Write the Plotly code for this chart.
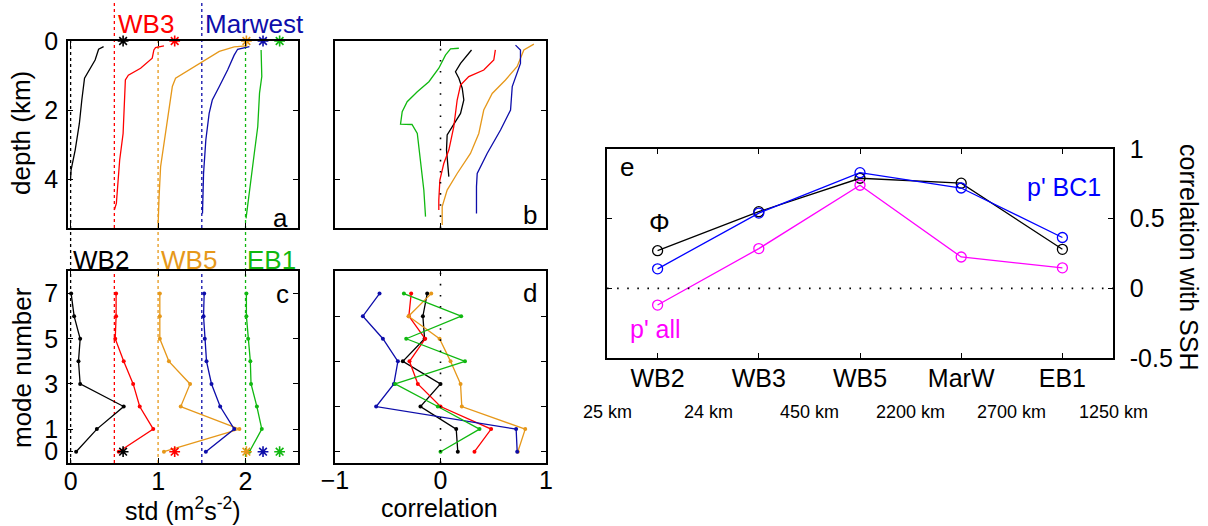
import plotly.graph_objects as go

W, H = 1208, 526
FONT = "Liberation Sans, Arial, Helvetica, sans-serif"

# ---------------- data ----------------
stations_ac = ["WB2", "WB3", "WB5", "Marwest", "EB1"]
colors_ac = ["#000000", "#FF0000", "#E6981A", "#0D0DAA", "#10B810"]
offsets = [0.0, 0.5, 1.0, 1.5, 2.0]
ssh_star_x = [0.60, 1.19, 2.01, 2.20, 2.39]

# panel a: std profiles vs depth (km)
a_depth = [
    [0.165, 0.24, 0.55, 0.99, 1.08, 1.71, 2.39, 3.16, 3.74, 3.97],
    [0.14, 0.19, 0.26, 0.50, 0.79, 0.99, 1.13, 1.71, 2.68, 3.45, 4.22, 4.71, 4.90],
    [0.14, 0.17, 0.30, 0.69, 0.94, 1.08, 1.32, 1.99, 2.87, 3.64, 4.61, 5.38],
    [0.165, 0.24, 0.41, 0.84, 1.32, 1.71, 2.10, 2.87, 3.84, 5.0],
    [0.26, 1.03, 1.51, 2.48, 3.26, 4.22, 4.80, 5.14],
]
a_std = [
    [0.377, 0.32, 0.28, 0.186, 0.159, 0.128, 0.10, 0.052, 0.005, 0.0],
    [0.567, 0.471, 0.452, 0.433, 0.30, 0.16, 0.126, 0.115, 0.10, 0.061, 0.038, 0.023, 0.0],
    [1.006, 0.87, 0.70, 0.45, 0.278, 0.20, 0.163, 0.124, 0.067, 0.029, 0.01, 0.0],
    [0.544, 0.41, 0.37, 0.295, 0.20, 0.12, 0.084, 0.046, 0.02, 0.008],
    [0.178, 0.186, 0.16, 0.14, 0.10, 0.055, 0.025, 0.006],
]

# panel b: correlation profiles vs depth
b_depth = [
    [0.26, 0.41, 0.65, 0.89, 1.08, 1.37, 1.71, 2.10, 2.43, 2.72, 3.16, 3.55, 3.93],
    [0.26, 0.55, 0.84, 1.03, 1.28, 1.71, 2.48, 3.16, 3.55, 4.03, 4.61, 4.90],
    [0.09, 0.26, 0.74, 1.13, 1.52, 2.0, 2.68, 3.26, 3.84, 4.32, 4.80, 5.33],
    [0.12, 0.26, 0.65, 1.03, 1.32, 2.0, 2.58, 3.26, 3.84, 4.22, 5.0],
    [0.21, 0.23, 0.41, 0.79, 1.18, 1.47, 1.76, 2.05, 2.41, 2.42, 2.68, 3.55, 4.32, 5.09],
]
b_corr = [
    [0.294, 0.253, 0.19, 0.142, 0.174, 0.206, 0.221, 0.19, 0.126, 0.063, 0.057, 0.069, 0.079],
    [0.52, 0.505, 0.41, 0.268, 0.19, 0.158, 0.126, 0.079, 0.031, -0.006, -0.016, -0.016],
    [0.885, 0.79, 0.727, 0.616, 0.49, 0.41, 0.363, 0.284, 0.158, 0.063, 0.016, 0.016],
    [0.711, 0.758, 0.758, 0.711, 0.68, 0.664, 0.569, 0.442, 0.348, 0.341, 0.341],
    [0.174, 0.095, 0.047, -0.016, -0.11, -0.22, -0.316, -0.363, -0.379, -0.27, -0.22, -0.19, -0.158, -0.142],
]

# panel c: std by mode number
modes = [0, 1, 2, 3, 4, 5, 6, 7]
c_std = [
    [0.063, 0.30, 0.607, 0.109, 0.09, 0.109, 0.04, 0.006],
    [0.05, 0.445, 0.29, 0.215, 0.107, 0.01, 0.02, 0.02],
    [0.067, 0.93, 0.259, 0.366, 0.124, 0.02, 0.02, 0.02],
    [0.046, 0.371, 0.21, 0.111, 0.054, 0.034, 0.02, 0.027],
    [0.044, 0.186, 0.13, 0.063, 0.055, 0.03, 0.01, 0.01],
]

# panel d: correlation by mode number
d_corr = [
    [0.164, 0.149, -0.19, 0.0, -0.357, -0.151, -0.167, -0.126],
    [0.322, 0.48, 0.0, -0.215, -0.294, -0.145, -0.30, -0.278],
    [0.733, 0.803, 0.202, 0.19, 0.095, -0.009, -0.303, -0.088],
    [0.727, 0.717, -0.61, -0.442, -0.404, -0.546, -0.736, -0.578],
    [0.0, 0.37, -0.026, -0.43, 0.232, -0.325, 0.196, -0.347],
]

# panel e
stations_e = ["WB2", "WB3", "WB5", "MarW", "EB1"]
phi_corr = [0.27, 0.55, 0.79, 0.755, 0.28]
p_bc1_corr = [0.14, 0.54, 0.83, 0.72, 0.365]
p_all_corr = [-0.12, 0.285, 0.74, 0.225, 0.147]
dist_labels = ["25 km", "24 km", "450 km", "2200 km", "2700 km", "1250 km"]
dist_pos = [-0.5, 0.5, 1.5, 2.5, 3.5, 4.5]

# ---------------- layout helpers ----------------
def px(x):
    return x / W

def py(y):
    return 1 - y / H

A_X = [px(68), px(298)]
B_X = [px(335), px(546)]
TOP_Y = [py(228), py(41)]
BOT_Y = [py(463), py(271)]
E_X = [px(607), px(1113)]
E_Y = [py(358), py(149)]

fig = go.Figure()

LW = 1.3
# panel a
for i in range(5):
    fig.add_trace(go.Scatter(
        x=[v + offsets[i] for v in a_std[i]], y=a_depth[i], mode="lines",
        line=dict(color=colors_ac[i], width=LW), xaxis="x", yaxis="y",
        showlegend=False, hoverinfo="skip"))
fig.add_trace(go.Scatter(
    x=ssh_star_x, y=[0] * 5, mode="markers", cliponaxis=False,
    marker=dict(symbol="asterisk-open", size=9, color=colors_ac,
                line=dict(color=colors_ac, width=1.6)),
    xaxis="x", yaxis="y", showlegend=False, hoverinfo="skip"))

# panel b
for i in range(5):
    fig.add_trace(go.Scatter(
        x=b_corr[i], y=b_depth[i], mode="lines",
        line=dict(color=colors_ac[i], width=LW), xaxis="x2", yaxis="y2",
        showlegend=False, hoverinfo="skip"))

# panel c
for i in range(5):
    fig.add_trace(go.Scatter(
        x=[v + offsets[i] for v in c_std[i]], y=modes, mode="lines+markers",
        line=dict(color=colors_ac[i], width=LW),
        marker=dict(size=4, color=colors_ac[i]),
        xaxis="x3", yaxis="y3", showlegend=False, hoverinfo="skip"))
fig.add_trace(go.Scatter(
    x=ssh_star_x, y=[0] * 5, mode="markers", cliponaxis=False,
    marker=dict(symbol="asterisk-open", size=9, color=colors_ac,
                line=dict(color=colors_ac, width=1.6)),
    xaxis="x3", yaxis="y3", showlegend=False, hoverinfo="skip"))

# panel d
for i in range(5):
    fig.add_trace(go.Scatter(
        x=d_corr[i], y=modes, mode="lines+markers",
        line=dict(color=colors_ac[i], width=LW),
        marker=dict(size=4, color=colors_ac[i]),
        xaxis="x4", yaxis="y4", showlegend=False, hoverinfo="skip"))

# panel e
xe = list(range(len(stations_e)))
for vals, col in [(phi_corr, "#000000"), (p_bc1_corr, "#0000FF"), (p_all_corr, "#FF00FF")]:
    fig.add_trace(go.Scatter(
        x=xe, y=vals, mode="lines+markers",
        line=dict(color=col, width=1.3),
        marker=dict(symbol="circle-open", size=10, color=col, line=dict(width=1.3, color=col)),
        xaxis="x5", yaxis="y5", showlegend=False, hoverinfo="skip"))

# ---------------- axes ----------------
def axis(**kw):
    base = dict(showline=True, linecolor="black", linewidth=1.6, mirror="ticks",
                ticks="inside", ticklen=5, tickwidth=1.2, tickcolor="black",
                showgrid=False, zeroline=False, automargin=False,
                tickfont=dict(family=FONT, size=25, color="black"))
    base.update(kw)
    return base

fig.update_layout(
    width=W, height=H, margin=dict(l=0, r=0, t=0, b=0, autoexpand=False),
    paper_bgcolor="white", plot_bgcolor="white",
    font=dict(family=FONT, color="black"),
    xaxis=axis(domain=A_X, anchor="y", range=[-0.03, 2.6], tickvals=[0, 1, 2], showticklabels=False),
    yaxis=axis(domain=TOP_Y, anchor="x", range=[5.42, 0], tickvals=[0, 2, 4], ticklabelstandoff=3),
    xaxis2=axis(domain=B_X, anchor="y2", range=[-1, 1], tickvals=[-1, 0, 1], showticklabels=False),
    yaxis2=axis(domain=TOP_Y, anchor="x2", range=[5.42, 0], tickvals=[0, 2, 4], showticklabels=False),
    xaxis3=axis(domain=A_X, anchor="y3", range=[-0.03, 2.6], tickvals=[0, 1, 2], ticklabelstandoff=-5),
    yaxis3=axis(domain=BOT_Y, anchor="x3", range=[-0.5, 8], tickvals=[0, 1, 3, 5, 7], ticklabelstandoff=3),
    xaxis4=axis(domain=B_X, anchor="y4", range=[-1, 1], tickvals=[-1, 0, 1], ticklabelstandoff=-6),
    yaxis4=axis(domain=BOT_Y, anchor="x4", range=[-0.5, 8], tickvals=[0, 2, 4, 6], showticklabels=False),
    xaxis5=axis(domain=E_X, anchor="y5", range=[-0.5, 4.5], tickvals=xe, ticktext=stations_e,
                ticklabelstandoff=-3),
    yaxis5=axis(domain=E_Y, anchor="x5", side="right", range=[-0.5, 1.0],
                tickvals=[-0.5, 0, 0.5, 1], ticktext=["-0.5", "0", "0.5", "1"], ticklabelstandoff=10),
)

# ---------------- reference lines ----------------
shapes = []
dot = dict(width=1.3, dash="dot")
for i in range(5):
    col = colors_ac[i]
    if stations_ac[i] in ("WB3", "Marwest"):
        segs = [(py(228), 1.0), (py(463), py(271))]
    else:
        segs = [(py(463), py(41))]
    for y0, y1 in segs:
        shapes.append(dict(type="line", xref="x", yref="paper", x0=offsets[i], x1=offsets[i],
                           y0=y0, y1=y1, line=dict(color=col, **dot), layer="below"))
for xr, yr in [("x2", "y2 domain"), ("x4", "y4 domain")]:
    shapes.append(dict(type="line", xref=xr, yref=yr, x0=0, x1=0, y0=0, y1=1,
                       line=dict(color="black", width=1.6, dash="1.6px,9.5px")))
shapes.append(dict(type="line", xref="x5 domain", yref="y5", x0=0, x1=1, y0=0, y1=0,
                   line=dict(color="black", width=1.6, dash="1.6px,8.5px")))
fig.update_layout(shapes=shapes)

# ---------------- text ----------------
ann = []

def text(x, y, s, size=25, color="black", angle=0, xanchor="center", yanchor="middle"):
    ann.append(dict(x=px(x), y=py(y), xref="paper", yref="paper", text=s, showarrow=False,
                    font=dict(family=FONT, size=size, color=color), textangle=angle,
                    xanchor=xanchor, yanchor=yanchor))

# series labels
label_pos = {"WB3": (146, 24), "Marwest": (254, 24), "WB2": (101, 260), "WB5": (189, 260), "EB1": (271, 260)}
for i, name in enumerate(stations_ac):
    x, y = label_pos[name]
    text(x, y, name, size=26, color=colors_ac[i])

# panel letters
text(280, 218, "a", size=26)
text(530, 215, "b", size=26)
text(282, 294, "c", size=26)
text(530, 293, "d", size=26)
text(627, 167, "e", size=26)

# axis titles
text(21, 133, "depth (km)", size=26, angle=-90)
text(22, 368, "mode number", size=26, angle=-90)
text(183, 509, "std (m<sup>2</sup>s<sup>-2</sup>)", size=25)
text(440, 508, "correlation", size=25)
text(1189, 257, "correlation with SSH", size=25, angle=90)

# panel e labels
text(659, 223, "Φ", size=26)
text(655, 329, "p' all", size=25, color="#FF00FF")
text(1064, 187, "p' BC1", size=25, color="#0000FF")

for lab, pos in zip(dist_labels, dist_pos):
    ann.append(dict(x=pos, y=py(412), xref="x5", yref="paper", text=lab, showarrow=False,
                    font=dict(family=FONT, size=18, color="black"), xanchor="center", yanchor="middle"))

fig.update_layout(annotations=ann)
fig.write_html(
    "out.html",
    config={"displayModeBar": False},
    post_script="document.body.style.margin='0';document.body.style.padding='0';"
                "document.body.style.overflow='hidden';",
)
